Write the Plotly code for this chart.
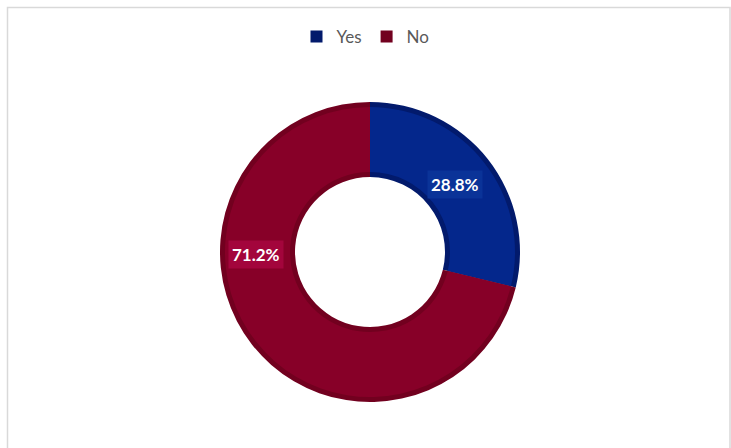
import plotly.graph_objects as go

# Survey answers and their shares (percent)
labels = ["Yes", "No"]
values = [28.8, 71.2]

# Slice colours: body and darker bevel edge
body_colors = ["#04278c", "#870028"]
edge_colors = ["#021a6c", "#72001f"]
label_bg = ["#0a3398", "#a3053c"]

W, H = 731, 448
cx, cy = 370, 252          # donut centre in pixels (from top-left)
r_outer, r_inner = 150, 75
bevel = 5


def domain(r):
    return dict(
        x=[(cx - r) / W, (cx + r) / W],
        y=[(H - cy - r) / H, (H - cy + r) / H],
    )


fig = go.Figure()

# Outer shell, gives the darker edge band
fig.add_trace(go.Pie(
    labels=labels, values=values, hole=r_inner / r_outer,
    domain=domain(r_outer), sort=False, direction="clockwise", rotation=0,
    marker=dict(colors=edge_colors, line=dict(width=0)),
    textinfo="none", hoverinfo="label+percent", showlegend=True,
))

# Inner body of each slice
r2 = r_outer - bevel
fig.add_trace(go.Pie(
    labels=labels, values=values, hole=(r_inner + bevel) / r2,
    domain=domain(r2), sort=False, direction="clockwise", rotation=0,
    marker=dict(colors=body_colors, line=dict(width=0)),
    textinfo="none", hoverinfo="label+percent", showlegend=False,
))

# Data labels in filled boxes
label_pos = [(455, 184), (256, 254)]
for val, bg, (lx, ly) in zip(values, label_bg, label_pos):
    fig.add_annotation(
        x=lx / W, y=(H - ly) / H, xref="paper", yref="paper",
        text=f"<b>{val:.1f}%</b>", showarrow=False,
        font=dict(family="Lato", size=17, color="white"),
        bgcolor=bg, borderpad=3,
    )

# Chart area border
fig.add_shape(
    type="rect", xref="paper", yref="paper",
    x0=7.5 / W, x1=730 / W, y0=-0.05, y1=(H - 7.5) / H,
    line=dict(color="#d9d9d9", width=1.5), fillcolor="rgba(0,0,0,0)",
)

fig.update_layout(
    width=W, height=H,
    margin=dict(l=0, r=0, t=0, b=0),
    paper_bgcolor="white", plot_bgcolor="white",
    legend=dict(
        orientation="h", x=0.5, xanchor="center", y=(H - 37) / H, yanchor="middle",
        font=dict(family="Lato", size=17, color="#595959"),
        itemwidth=30, traceorder="normal",
    ),
)

fig.write_html("out.html")
